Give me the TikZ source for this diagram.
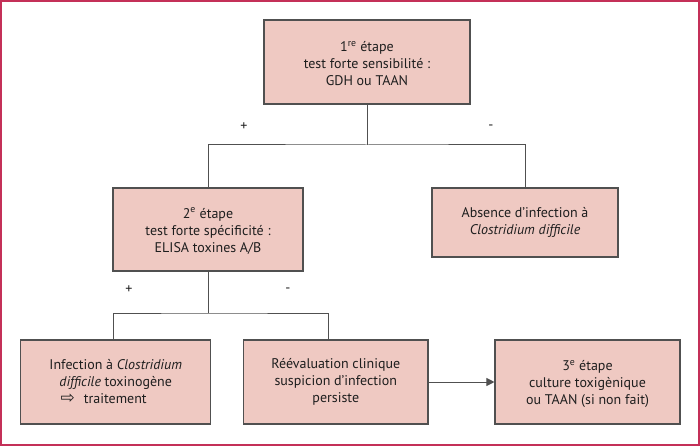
\documentclass[tikz,border=0pt]{standalone}
\usepackage{fontspec}
\setmainfont{PT Sans}
\newfontfamily\dejavu{DejaVu Sans}
\usetikzlibrary{arrows.meta}
\definecolor{boxfill}{RGB}{239,201,194}
\definecolor{boxline}{RGB}{80,80,80}
\definecolor{frameline}{RGB}{196,48,88}
\definecolor{txt}{RGB}{30,30,30}
\begin{document}
\begin{tikzpicture}[x=1pt,y=-1pt,
  box/.style={draw=boxline, line width=1.1pt, fill=boxfill, align=center, inner sep=0pt,
    font=\fontsize{14}{17}\selectfont, text=txt},
  conn/.style={draw=boxline, line width=1pt},
  sign/.style={font=\fontsize{14}{17}\selectfont, inner sep=0pt, text=txt}]
\useasboundingbox (0,0) rectangle (700,446);
\draw[frameline, line width=2pt] (1,1) rectangle (699,445);

\node[box, minimum width=206pt, minimum height=84pt] (b1) at (367,62)
  {\rule{0pt}{13pt}1\textsuperscript{re} étape\\ test forte sensibilité :\\ GDH ou TAAN};
\node[box, minimum width=190pt, minimum height=83pt] (b2) at (208,229.5)
  {\rule{0pt}{13pt}2\textsuperscript{e} étape\\ test forte spécificité :\\ ELISA toxines A/B};
\node[box, minimum width=186pt, minimum height=69pt] (b3) at (525,222.5)
  {Absence d’infection à\\ \textit{Clostridium difficile}};
\node[box, minimum width=190pt, minimum height=84pt] (b4) at (115.7,382)
  {Infection à \textit{Clostridium}\\ \textit{difficile} toxinogène\\ {\dejavu\fontsize{17}{17}\selectfont ⇨}\hspace{9pt}traitement\hspace*{24pt}};
\node[box, minimum width=184.3pt, minimum height=84pt] (b5) at (335.8,382)
  {Réévaluation clinique\\ suspicion d’infection\\ persiste};
\node[box, minimum width=185pt, minimum height=84pt] (b6) at (587.5,382)
  {\rule{0pt}{15pt}3\textsuperscript{e} étape\\ culture toxigènique\\ ou TAAN (si non fait)};

\coordinate (j1) at (367,145);
\coordinate (j2) at (208,313);
\draw[conn] (b1.south) -- (j1);
\draw[conn] (b2.north) |- (j1) -| (b3.north);
\draw[conn] (b2.south) -- (j2);
\draw[conn] (b4.north -| 113,0) |- (j2) -| (b5.north -| 328,0);
\draw[conn, -{Triangle[length=8pt,width=8pt]}] (b5.east) -- (b6.west);

\node[sign] (p1) at (244,127) {+};
\node[sign] (m1) at (491,127) {-};
\node[sign] (p2) at (129,290) {+};
\node[sign] (m2) at (288,290) {-};
\end{tikzpicture}
\end{document}
